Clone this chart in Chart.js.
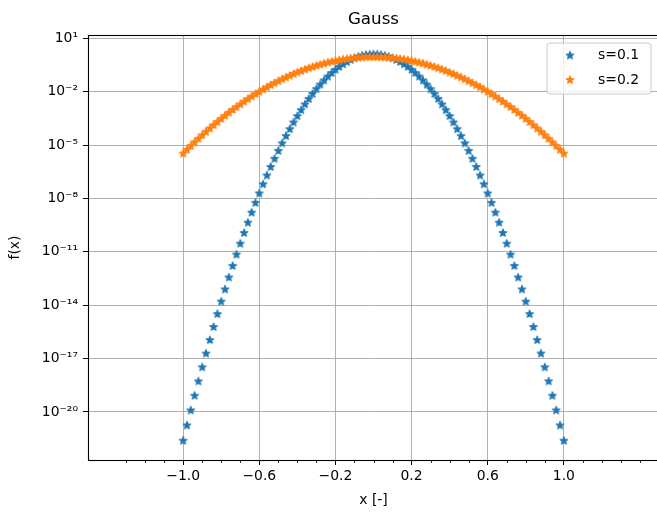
<!DOCTYPE html>
<html><head><meta charset="utf-8">
<script src="https://cdn.jsdelivr.net/npm/chart.js@4"></script>
<style>
html,body{margin:0;padding:0;background:#fff;overflow:hidden;width:657px;height:513px}
#wrap{position:absolute;left:0;top:0;width:664px;height:513px}
</style></head><body><div id="wrap"><canvas id="c" width="664" height="513"></canvas></div>
<script>
const chartTitle = 'Gauss';
const xAxisLabel = 'x [-]';
const yAxisLabel = 'f(x)';
const seriesLabels = ['s=0.1', 's=0.2'];
const seriesColors = ['#1f77b4', '#ff7f0e'];

const xValues = [
-1.00,-0.98,-0.96,-0.94,-0.92,-0.90,-0.88,-0.86,-0.84,-0.82,
-0.80,-0.78,-0.76,-0.74,-0.72,-0.70,-0.68,-0.66,-0.64,-0.62,
-0.60,-0.58,-0.56,-0.54,-0.52,-0.50,-0.48,-0.46,-0.44,-0.42,
-0.40,-0.38,-0.36,-0.34,-0.32,-0.30,-0.28,-0.26,-0.24,-0.22,
-0.20,-0.18,-0.16,-0.14,-0.12,-0.10,-0.08,-0.06,-0.04,-0.02,
0.00,
0.02,0.04,0.06,0.08,0.10,0.12,0.14,0.16,0.18,0.20,
0.22,0.24,0.26,0.28,0.30,0.32,0.34,0.36,0.38,0.40,
0.42,0.44,0.46,0.48,0.50,0.52,0.54,0.56,0.58,0.60,
0.62,0.64,0.66,0.68,0.70,0.72,0.74,0.76,0.78,0.80,
0.82,0.84,0.86,0.88,0.90,0.92,0.94,0.96,0.98,1.00];

const s01Values = [
2.433e-22,1.762e-21,1.226e-20,8.200e-20,5.268e-19,3.251e-18,1.928e-17,1.098e-16,6.012e-16,3.162e-15,
1.598e-14,7.757e-14,3.618e-13,1.621e-12,6.982e-12,2.888e-11,1.148e-10,4.385e-10,1.609e-9,5.673e-9,
1.921e-8,6.254e-8,1.955e-7,5.873e-7,1.695e-6,4.700e-6,1.253e-5,3.207e-5,7.886e-5,1.864e-4,
4.232e-4,9.23e-4,1.935e-3,3.897e-3,7.54e-3,0.01402,0.02503,0.04295,0.07084,0.1122,
0.1708,0.2497,0.3508,0.4735,0.614,0.765,0.916,1.054,1.165,1.237,
1.262,
1.237,1.165,1.054,0.916,0.765,0.614,0.4735,0.3508,0.2497,0.1708,
0.1122,0.07084,0.04295,0.02503,0.01402,7.54e-3,3.897e-3,1.935e-3,9.23e-4,4.232e-4,
1.864e-4,7.886e-5,3.207e-5,1.253e-5,4.700e-6,1.695e-6,5.873e-7,1.955e-7,6.254e-8,1.921e-8,
5.673e-9,1.609e-9,4.385e-10,1.148e-10,2.888e-11,6.982e-12,1.621e-12,3.618e-13,7.757e-14,1.598e-14,
3.162e-15,6.012e-16,1.098e-16,1.928e-17,3.251e-18,5.268e-19,8.200e-20,1.226e-20,1.762e-21,2.433e-22];

const s02Values = [
3.324e-6,5.454e-6,8.857e-6,1.424e-5,2.267e-5,3.574e-5,5.576e-5,8.616e-5,1.318e-4,1.996e-4,
2.992e-4,4.442e-4,6.530e-4,9.497e-4,1.368e-3,1.951e-3,2.755e-3,3.852e-3,5.331e-3,7.305e-3,
9.911e-3,0.01331,0.01770,0.02330,0.03038,0.03919,0.05007,0.06335,0.07931,0.09835,
0.1207,0.1467,0.1765,0.2102,0.2481,0.2896,0.3349,0.3832,0.4342,0.4871,
0.5410,0.5951,0.6477,0.6982,0.7451,0.7872,0.8235,0.8527,0.8744,0.8875,
0.892,
0.8875,0.8744,0.8527,0.8235,0.7872,0.7451,0.6982,0.6477,0.5951,0.5410,
0.4871,0.4342,0.3832,0.3349,0.2896,0.2481,0.2102,0.1765,0.1467,0.1207,
0.09835,0.07931,0.06335,0.05007,0.03919,0.03038,0.02330,0.01770,0.01331,9.911e-3,
7.305e-3,5.331e-3,3.852e-3,2.755e-3,1.951e-3,1.368e-3,9.497e-4,6.530e-4,4.442e-4,2.992e-4,
1.996e-4,1.318e-4,8.616e-5,5.576e-5,3.574e-5,2.267e-5,1.424e-5,8.857e-6,5.454e-6,3.324e-6];

const xMajorTicks = [-1.0, -0.6, -0.2, 0.2, 0.6, 1.0];
const xTickLabels = ['\u22121.0', '\u22120.6', '\u22120.2', '0.2', '0.6', '1.0'];
const xMinorTicks = [-1.3,-1.2,-1.1,-0.9,-0.8,-0.7,-0.5,-0.4,-0.3,-0.1,0.0,0.1,0.3,0.4,0.5,0.7,0.8,0.9,1.1,1.2,1.3,1.4];
const yTicks = [1e1, 1e-2, 1e-5, 1e-8, 1e-11, 1e-14, 1e-17, 1e-20];
const yTickLabels = ['10\u00B9', '10\u207B\u00B2', '10\u207B\u2075', '10\u207B\u2078', '10\u207B\u00B9\u00B9', '10\u207B\u00B9\u2074', '10\u207B\u00B9\u2077', '10\u207B\u00B2\u2070'];
const xRange = [-1.5, 1.5];
const yRange = [2.0e-23, 15.4];

const FONT = 'DejaVu Sans';

function makeStar(color) {
  const c = document.createElement('canvas');
  c.width = 12; c.height = 12;
  const g = c.getContext('2d');
  const R = 4.0, r = R * 0.381966;
  g.beginPath();
  for (let i = 0; i < 10; i++) {
    const a = -Math.PI / 2 + i * Math.PI / 5;
    const rad = i % 2 === 0 ? R : r;
    const px = 6 + rad * Math.cos(a), py = 6 + rad * Math.sin(a);
    if (i === 0) g.moveTo(px, py); else g.lineTo(px, py);
  }
  g.closePath();
  g.fillStyle = color; g.fill();
  g.lineWidth = 1.2; g.lineJoin = 'round'; g.strokeStyle = color; g.stroke();
  return c;
}
const stars = seriesColors.map(makeStar);
const seriesValues = [s01Values, s02Values];
const toPts = ys => xValues.map((x, i) => ({x: x, y: ys[i]}));

const decor = {
  id: 'decor',
  afterDatasetsDraw(chart) {
    const ctx = chart.ctx, a = chart.chartArea, xs = chart.scales.x;
    ctx.save();
    ctx.strokeStyle = '#000';
    ctx.lineWidth = 0.8;
    xMinorTicks.forEach(v => {
      const px = Math.round(xs.getPixelForValue(v)) + 0.5;
      ctx.beginPath(); ctx.moveTo(px, a.bottom); ctx.lineTo(px, a.bottom + 3); ctx.stroke();
    });
    ctx.lineWidth = 1.1;
    ctx.strokeRect(Math.round(a.left) + 0.5, Math.round(a.top) + 0.5, Math.round(a.right - a.left), Math.round(a.bottom - a.top));
    ctx.restore();
  },
  afterDraw(chart) {
    const ctx = chart.ctx, a = chart.chartArea;
    const cx = (a.left + a.right) / 2;
    ctx.save();
    ctx.fillStyle = '#000';
    ctx.font = '16.7px "' + FONT + '"';
    ctx.textAlign = 'center'; ctx.textBaseline = 'alphabetic';
    ctx.fillText(chartTitle, cx, 24);
    ctx.font = '13.9px "' + FONT + '"';
    ctx.textBaseline = 'middle';
    ctx.fillText(xAxisLabel, cx, 500);
    ctx.save();
    ctx.translate(15, (a.top + a.bottom) / 2);
    ctx.rotate(-Math.PI / 2);
    ctx.fillText(yAxisLabel, 0, 0);
    ctx.restore();
    // legend
    const lx = 547, ly = 43, lw = 104, lh = 51, rr = 3;
    ctx.beginPath();
    ctx.moveTo(lx + rr, ly);
    ctx.lineTo(lx + lw - rr, ly); ctx.arcTo(lx + lw, ly, lx + lw, ly + rr, rr);
    ctx.lineTo(lx + lw, ly + lh - rr); ctx.arcTo(lx + lw, ly + lh, lx + lw - rr, ly + lh, rr);
    ctx.lineTo(lx + rr, ly + lh); ctx.arcTo(lx, ly + lh, lx, ly + lh - rr, rr);
    ctx.lineTo(lx, ly + rr); ctx.arcTo(lx, ly, lx + rr, ly, rr);
    ctx.closePath();
    ctx.fillStyle = 'rgba(255,255,255,0.8)'; ctx.fill();
    ctx.strokeStyle = '#cccccc'; ctx.lineWidth = 1; ctx.stroke();
    ctx.textAlign = 'left'; ctx.textBaseline = 'middle'; ctx.fillStyle = '#000';
    chart.data.datasets.forEach((ds, i) => {
      const yy = 55.5 + i * 24.5;
      ctx.drawImage(stars[i], 570 - 6, yy - 6);
      ctx.fillText(ds.label, 598, yy);
    });
    ctx.restore();
  }
};

new Chart(document.getElementById('c'), {
  type: 'scatter',
  data: {
    datasets: seriesValues.map((vals, i) => ({
      label: seriesLabels[i],
      data: toPts(vals),
      pointStyle: stars[i],
      pointRadius: 4, pointHoverRadius: 4,
      backgroundColor: seriesColors[i], borderColor: seriesColors[i],
      showLine: false,
      order: 1 - i
    }))
  },
  options: {
    responsive: false, animation: false, devicePixelRatio: 1, events: [],
    layout: {padding: {top: 35, right: 5, left: 0, bottom: 0}},
    plugins: {legend: {display: false}, title: {display: false}, tooltip: {enabled: false}},
    scales: {
      x: {
        type: 'linear', min: xRange[0], max: xRange[1], bounds: 'data',
        afterFit(s) { s.height = 53; },
        afterBuildTicks(s) { s.ticks = xMajorTicks.map(v => ({value: v})); },
        ticks: {autoSkip: false, maxRotation: 0, minRotation: 0, padding: 3, color: '#000',
          font: {family: FONT, size: 13.9},
          callback: (v, i) => xTickLabels[i]},
        grid: {color: '#b0b0b0', lineWidth: 1, drawTicks: true, tickLength: 5, tickColor: '#000', tickWidth: 1},
        border: {display: false}
      },
      y: {
        type: 'logarithmic', min: yRange[0], max: yRange[1], bounds: 'data',
        afterFit(s) { s.width = 88; },
        afterBuildTicks(s) { s.ticks = yTicks.map(v => ({value: v})); },
        ticks: {autoSkip: false, padding: 5, color: '#000',
          font: {family: FONT, size: 13.9},
          callback: (v, i) => yTickLabels[i]},
        grid: {color: '#b0b0b0', lineWidth: 1, drawTicks: true, tickLength: 5, tickColor: '#000', tickWidth: 1},
        border: {display: false}
      }
    }
  },
  plugins: [decor]
});
</script></body></html>
